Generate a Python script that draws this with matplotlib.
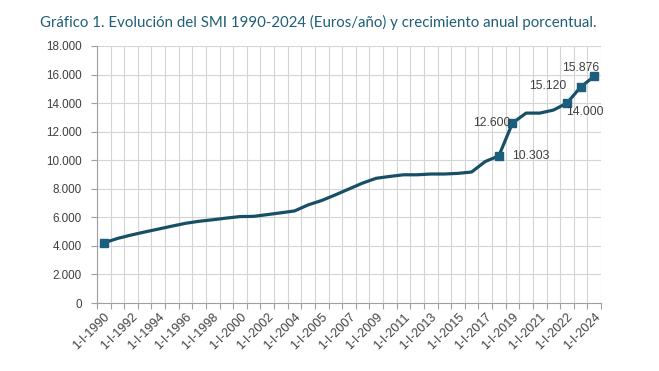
import matplotlib
matplotlib.use("Agg")
import matplotlib.pyplot as plt
import numpy as np

categories = (["1-I-%d" % y for y in range(1990, 2005)] + ["1-VII-2004"] +
              ["1-I-%d" % y for y in range(2005, 2022)] + ["1-IX-2021"] +
              ["1-I-2022", "1-I-2023", "1-I-2024"])
smi = [4208, 4520, 4759, 4974, 5177, 5383, 5582, 5725, 5830, 5948,
       6053, 6068, 6191, 6317, 6447, 6871, 7182, 7573, 7988, 8400,
       8736, 8866, 8980, 8980, 9034, 9034, 9080, 9173, 9908, 10303,
       12600, 13300, 13300, 13510, 14000, 15120, 15876]
marked = ["1-I-1990", "1-I-2018", "1-I-2019", "1-I-2022", "1-I-2023", "1-I-2024"]
labelled = {"1-I-2018": "10.303", "1-I-2019": "12.600", "1-I-2022": "14.000",
            "1-I-2023": "15.120", "1-I-2024": "15.876"}
label_offsets = {"1-I-2018": (13, 0, "left", "center"),
                 "1-I-2019": (-2, 0, "right", "center"),
                 "1-I-2022": (-1, -9, "left", "center"),
                 "1-I-2023": (-14, 1, "right", "center"),
                 "1-I-2024": (-14, 8, "center", "center")}
yticks = list(range(0, 18001, 2000))

fig = plt.figure(figsize=(6.59, 3.71), dpi=100)
ax = fig.add_axes([97/659, 1-303/371, (601-97)/659, (303-46)/371])

x = np.arange(len(categories))
line_color = "#174f66"
ax.plot(x, smi, color=line_color, lw=2.3, solid_capstyle="round", zorder=3)
mi = [categories.index(c) for c in marked]
ax.plot(mi, [smi[i] for i in mi], ls="none", marker="s", ms=5.8,
        color="#1b5e7e", zorder=4)
for c, txt in labelled.items():
    i = categories.index(c)
    dx, dy, ha, va = label_offsets[c]
    ax.annotate(txt, (i, smi[i]), xytext=(dx, dy), textcoords="offset pixels",
                ha=ha, va=va, fontsize=8.8, color="#404040",
                family="Liberation Sans", zorder=5)

ax.set_xlim(-0.5, len(categories) - 0.5)
ax.set_ylim(0, 18000)
ax.set_yticks(yticks)
ax.set_yticklabels([f"{v:,}".replace(",", ".") for v in yticks],
                   fontsize=8.4, family="Liberation Sans", color="#404040")
ax.set_xticks(np.arange(-0.5, len(categories), 1.0), minor=False)
ax.set_xticklabels([])
ax.set_xticks(x[::2], minor=True)
ax.set_xticklabels(categories[::2], minor=True, rotation=45, ha="right",
                   rotation_mode="anchor", fontsize=9, family="Liberation Sans",
                   color="#404040")
ax.tick_params(axis="x", which="minor", length=0, pad=6)
ax.tick_params(axis="x", which="major", length=4, color="#a0a0a0")
ax.tick_params(axis="y", length=4, color="#a0a0a0", pad=7)
ax.grid(True, axis="x", which="major", color="#d4d4d4", lw=0.8)
ax.grid(True, axis="y", color="#d4d4d4", lw=0.8)
ax.set_axisbelow(True)
for s in ["top", "right"]:
    ax.spines[s].set_visible(False)
for s in ["left", "bottom"]:
    ax.spines[s].set_color("#a0a0a0")

fig.text(40/659, 1-22/371, "Gráfico 1. Evolución del SMI 1990-2024 (Euros/año) y crecimiento anual porcentual.",
         fontsize=10.8, color="#1f5f78", family="Lato", va="center", ha="left")

fig.savefig("out.png", dpi=100, facecolor="white")
